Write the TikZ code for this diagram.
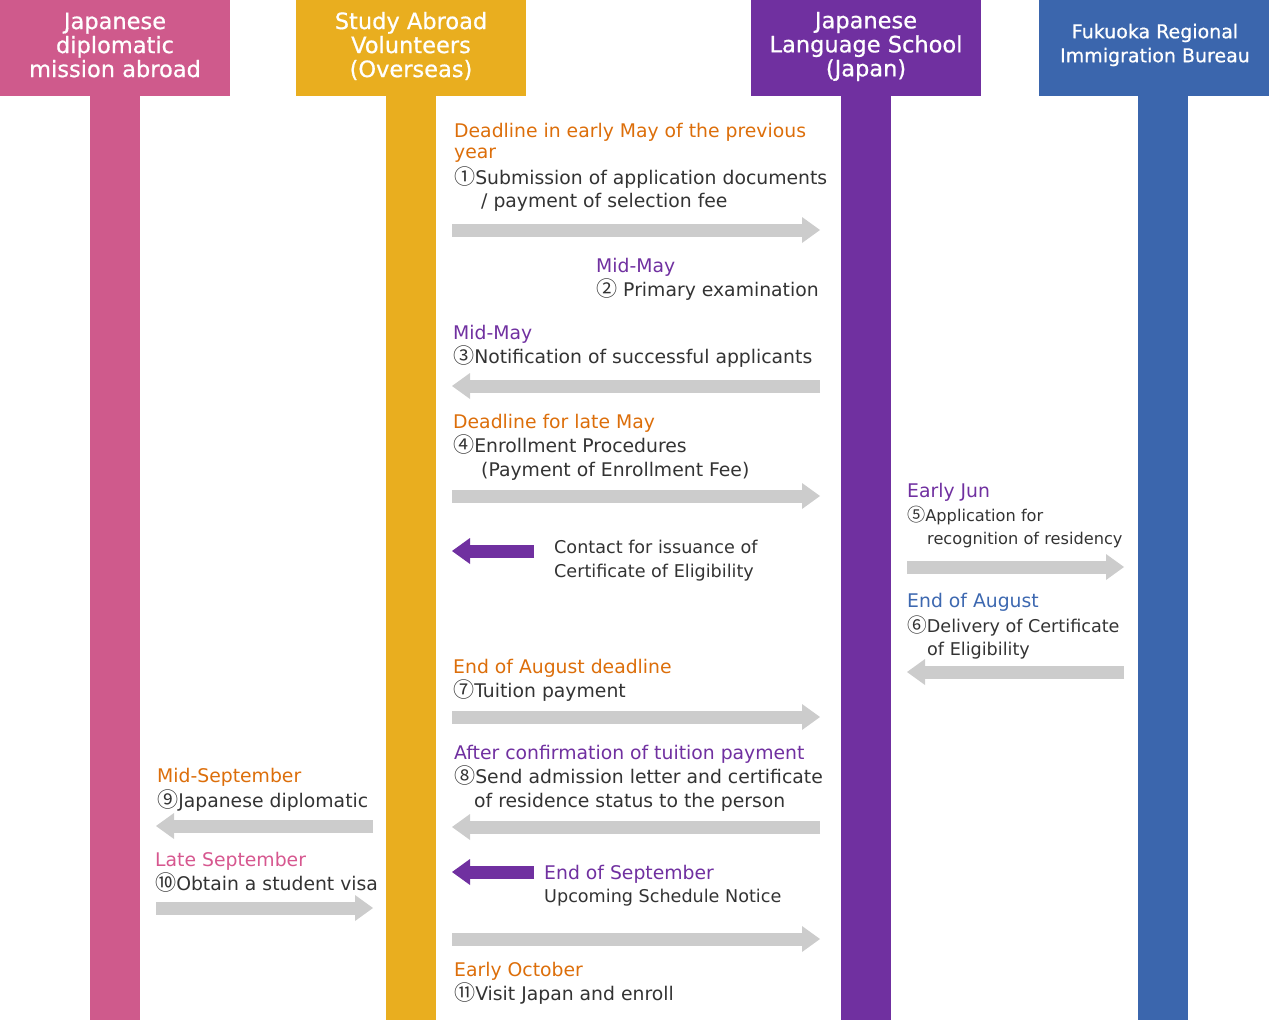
\documentclass[tikz,border=0pt]{standalone}
\usepackage{fontspec}
\setmainfont{DejaVu Sans}
\newfontfamily\jpfont[Scale=1.12]{Noto Sans CJK JP}
\newfontfamily\hdrfont[FakeBold=0.7]{DejaVu Sans}
\usetikzlibrary{arrows.meta}
\definecolor{pinkc}{HTML}{CF5A8C}
\definecolor{orangec}{HTML}{E9AE1F}
\definecolor{purplec}{HTML}{7030A0}
\definecolor{bluec}{HTML}{3B66AD}
\definecolor{textgray}{HTML}{333333}
\definecolor{arrowgray}{HTML}{CCCCCC}
\definecolor{orangetext}{HTML}{DC6E0A}
\definecolor{pinktext}{HTML}{D6578F}
\definecolor{bluetext}{HTML}{3D68B0}
\newcommand{\circnum}[1]{{\jpfont #1}}

\begin{document}
\begin{tikzpicture}[x=1pt,y=-1pt,
  hdr/.style={text=white,align=center,inner sep=0pt,font=\hdrfont\fontsize{22.5}{24}\selectfont},
  txt/.style={anchor=base west,inner sep=0pt,text=textgray,font=\fontsize{18.8}{24}\selectfont},
  mid/.style={txt,font=\fontsize{17.6}{22}\selectfont},
  tiny/.style={txt,font=\fontsize{16.2}{22}\selectfont},
  when/.style={txt,text=#1},
  grayarrow/.style={draw=arrowgray,line width=13pt,-{Triangle[length=18pt,width=26pt,line width=0pt]}},
  purplearrow/.style={draw=purplec,line width=13pt,-{Triangle[length=18pt,width=26pt,line width=0pt]}}]
\useasboundingbox (0,0) rectangle (1269,1020);

% headers and lanes
\fill[pinkc] (0,0) rectangle (230,96);
\fill[pinkc] (90,96) rectangle (140,1020);
\node[hdr] (mission) at (115,45) {Japanese\\diplomatic\\mission abroad};
\fill[orangec] (296,0) rectangle (526,96);
\fill[orangec] (386,96) rectangle (436,1020);
\node[hdr] (student) at (411,46) {Study Abroad\\Volunteers\\(Overseas)};
\fill[purplec] (751,0) rectangle (981,96);
\fill[purplec] (841,96) rectangle (891,1020);
\node[hdr] (school) at (866,46.5) {Japanese\\Language School\\(Japan)};
\fill[bluec] (1039,0) rectangle (1269,96);
\fill[bluec] (1138,96) rectangle (1188,1020);
\node[hdr,font=\hdrfont\fontsize{19}{24}\selectfont] (bureau) at (1155,45) {Fukuoka Regional\\Immigration Bureau};

% student <-> school
\node[when=orangetext] (d1) at (454,137) {Deadline in early May of the previous};
\node[when=orangetext] (d1b) at (454,158) {year};
\node[txt] (s1) at (454,184) {\circnum{①}Submission of application documents};
\node[txt] (s1b) at (481,207) {/ payment of selection fee};
\coordinate (a1s) at (452,230); \coordinate (a1e) at (820,230);
\draw[grayarrow] (a1s) -- (a1e);

\node[when=purplec] (d2) at (596,272) {Mid-May};
\node[txt] (s2) at (596,296) {\circnum{②} Primary examination};

\node[when=purplec] (d3) at (453,339) {Mid-May};
\node[txt] (s3) at (453,363) {\circnum{③}Notification of successful applicants};
\coordinate (a3s) at (820,386); \coordinate (a3e) at (452,386);
\draw[grayarrow] (a3s) -- (a3e);

\node[when=orangetext] (d4) at (453,428) {Deadline for late May};
\node[txt] (s4) at (453,452) {\circnum{④}Enrollment Procedures};
\node[txt] (s4b) at (481,476) {(Payment of Enrollment Fee)};
\coordinate (a4s) at (452,496); \coordinate (a4e) at (820,496);
\draw[grayarrow] (a4s) -- (a4e);

\coordinate (c1s) at (534,551); \coordinate (c1e) at (452,551);
\draw[purplearrow] (c1s) -- (c1e);
\node[mid] (contact) at (554,553) {Contact for issuance of};
\node[mid] (contactb) at (554,577) {Certificate of Eligibility};

% school <-> bureau
\node[when=purplec] (d5) at (907,497) {Early Jun};
\node[tiny] (s5) at (907,521) {\circnum{⑤}Application for};
\node[tiny] (s5b) at (927,544) {recognition of residency};
\coordinate (a5s) at (907,567); \coordinate (a5e) at (1124,567);
\draw[grayarrow] (a5s) -- (a5e);

\node[when=bluetext] (d6) at (907,607) {End of August};
\node[mid] (s6) at (907,632) {\circnum{⑥}Delivery of Certificate};
\node[mid] (s6b) at (927,655) {of Eligibility};
\coordinate (a6s) at (1124,672); \coordinate (a6e) at (907,672);
\draw[grayarrow] (a6s) -- (a6e);

% tuition and admission
\node[when=orangetext] (d7) at (453,673) {End of August deadline};
\node[txt] (s7) at (453,697) {\circnum{⑦}Tuition payment};
\coordinate (a7s) at (452,717); \coordinate (a7e) at (820,717);
\draw[grayarrow] (a7s) -- (a7e);

\node[when=purplec] (d8) at (454,759) {After confirmation of tuition payment};
\node[txt] (s8) at (454,783) {\circnum{⑧}Send admission letter and certificate};
\node[txt] (s8b) at (474,807) {of residence status to the person};
\coordinate (a8s) at (820,827); \coordinate (a8e) at (452,827);
\draw[grayarrow] (a8s) -- (a8e);

\coordinate (c2s) at (534,872); \coordinate (c2e) at (452,872);
\draw[purplearrow] (c2s) -- (c2e);
\node[when=purplec] (dsep) at (544,879) {End of September};
\node[mid] (notice) at (544,902) {Upcoming Schedule Notice};

\coordinate (a11s) at (452,939); \coordinate (a11e) at (820,939);
\draw[grayarrow] (a11s) -- (a11e);
\node[when=orangetext] (d11) at (454,976) {Early October};
\node[txt] (s11) at (454,1000) {\circnum{⑪}Visit Japan and enroll};

% mission <-> student
\node[when=orangetext] (d9) at (157,782) {Mid-September};
\node[txt] (s9) at (157,807) {\circnum{⑨}Japanese diplomatic};
\coordinate (a9s) at (373,826); \coordinate (a9e) at (156,826);
\draw[grayarrow] (a9s) -- (a9e);

\node[when=pinktext] (d10) at (155,866) {Late September};
\node[txt] (s10) at (155,890) {\circnum{⑩}Obtain a student visa};
\coordinate (a10s) at (156,908); \coordinate (a10e) at (373,908);
\draw[grayarrow] (a10s) -- (a10e);
\end{tikzpicture}
\end{document}
